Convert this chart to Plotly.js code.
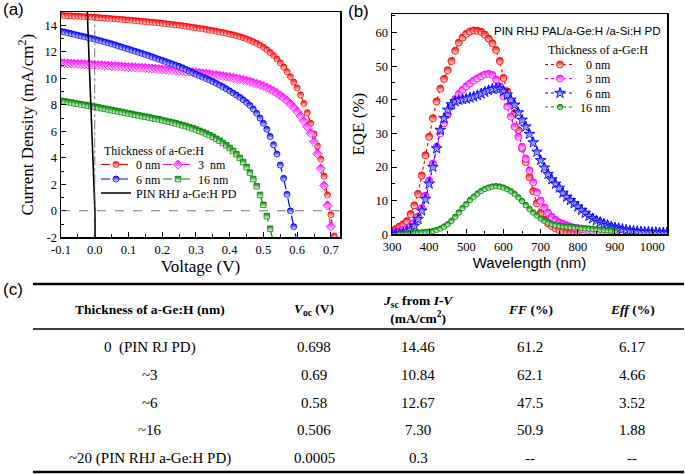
<!DOCTYPE html>
<html><head><meta charset="utf-8">
<script src="https://cdn.plot.ly/plotly-3.0.1.min.js"></script>
<style>html,body{margin:0;padding:0;background:#fff}#chart{width:685px;height:474px}</style>
</head><body><div id="chart"></div>
<script>
// ---------- (a) J-V data ----------
const voltage = [-0.10,-0.09,-0.08,-0.07,-0.06,-0.05,-0.04,-0.03,-0.02,-0.01,
 0.00,0.01,0.02,0.03,0.04,0.05,0.06,0.07,0.08,0.09,
 0.10,0.11,0.12,0.13,0.14,0.15,0.16,0.17,0.18,0.19,
 0.20,0.21,0.22,0.23,0.24,0.25,0.26,0.27,0.28,0.29,
 0.30,0.31,0.32,0.33,0.34,0.35,0.36,0.37,0.38,0.39,
 0.40,0.41,0.42,0.43,0.44,0.45,0.46,0.47,0.48,0.49,
 0.50,0.51,0.52,0.53,0.54,0.55,0.56,0.57,0.58,0.59,
 0.60,0.61,0.62,0.63,0.64,0.65,0.66,0.67,0.68,0.69,
 0.70,0.71,0.72];
const jv0nm = [14.75,14.74,14.72,14.71,14.69,14.68,14.66,14.65,14.63,14.62,
 14.60,14.58,14.56,14.54,14.52,14.50,14.48,14.46,14.44,14.42,
 14.40,14.38,14.35,14.33,14.30,14.28,14.25,14.23,14.20,14.18,
 14.15,14.12,14.09,14.06,14.03,14.00,13.96,13.93,13.89,13.85,
 13.81,13.77,13.73,13.69,13.64,13.60,13.55,13.50,13.45,13.40,
 13.34,13.28,13.21,13.14,13.06,12.97,12.87,12.76,12.64,12.50,
 12.34,12.16,11.95,11.72,11.46,11.17,10.85,10.50,10.12,9.71,
 9.27,8.75,8.10,7.40,6.60,5.80,4.90,3.90,2.60,1.20,
 -0.30,-1.90];
const jv3nm = [11.15,11.14,11.12,11.11,11.10,11.08,11.07,11.05,11.04,11.02,
 11.01,10.99,10.98,10.96,10.95,10.93,10.92,10.90,10.89,10.87,
 10.85,10.84,10.82,10.80,10.79,10.77,10.75,10.73,10.71,10.69,
 10.67,10.65,10.63,10.61,10.59,10.56,10.54,10.51,10.49,10.46,
 10.43,10.40,10.37,10.34,10.31,10.27,10.24,10.20,10.16,10.12,
 10.08,10.03,9.98,9.93,9.87,9.81,9.74,9.67,9.59,9.50,
 9.40,9.29,9.17,9.03,8.88,8.71,8.52,8.30,8.06,7.79,
 7.49,7.15,6.77,6.34,5.85,5.20,4.30,3.20,1.90,0.40,
 -1.20,-2.90];
const jv6nm = [13.55,13.49,13.43,13.37,13.31,13.25,13.19,13.13,13.07,13.01,
 12.95,12.88,12.81,12.74,12.67,12.60,12.52,12.44,12.36,12.28,
 12.20,12.12,12.04,11.96,11.88,11.80,11.71,11.62,11.53,11.44,
 11.35,11.26,11.17,11.08,10.99,10.90,10.79,10.67,10.55,10.43,
 10.31,10.20,10.09,9.98,9.87,9.75,9.62,9.49,9.35,9.20,
 9.05,8.89,8.73,8.56,8.38,8.18,7.95,7.68,7.36,7.00,
 6.60,6.15,5.60,4.98,4.28,3.45,2.45,1.25,0.00,-1.20,
 -2.40];
const jv16nm = [8.30,8.26,8.21,8.17,8.12,8.08,8.03,7.99,7.94,7.90,
 7.85,7.80,7.75,7.70,7.65,7.60,7.55,7.50,7.45,7.40,
 7.35,7.30,7.25,7.20,7.15,7.10,7.05,7.00,6.95,6.90,
 6.84,6.78,6.72,6.66,6.60,6.53,6.46,6.39,6.31,6.23,
 6.14,6.04,5.94,5.83,5.71,5.58,5.44,5.29,5.12,4.94,
 4.74,4.52,4.27,3.99,3.67,3.30,2.88,2.40,1.85,1.20,
 0.45,-0.40,-1.35,-2.40];
const pdVoltage = [-0.023,-0.011,0.0,0.0005,0.0012];
const pdCurrent = [15.6,7.6,0.3,0.0,-2.0];
const jvXTickVals = [-0.1,0.0,0.1,0.2,0.3,0.4,0.5,0.6,0.7];
const jvXTickText = ['-0.1','0.0','0.1','0.2','0.3','0.4','0.5','0.6','0.7'];
const jvYTickVals = [-2,0,2,4,6,8,10,12,14];
const jvYTickText = ['-2','0','2','4','6','8','10','12','14'];

// ---------- (b) EQE data ----------
const wavelength = [300,310,320,330,340,350,360,370,380,390,
 400,410,420,430,440,450,460,470,480,490,
 500,510,520,530,540,550,560,570,580,590,
 600,610,620,630,640,650,660,670,680,690,
 700,710,720,730,740,750,760,770,780,790,
 800,810,820,830,840,850,860,870,880,890,
 900,910,920,930,940,950,960,970,980,990,
 1000,1010,1020,1030,1040,1050];
const eqe0nm = [1.0,1.6,2.3,3.0,3.9,6.0,8.6,12.0,17.5,23.5,
 29.0,34.5,39.5,43.3,46.2,48.8,51.5,54.6,57.0,58.5,
 59.6,60.3,60.6,60.5,60.2,59.4,58.2,56.8,54.8,51.5,
 46.5,42.5,39.5,36.0,31.0,25.5,21.5,17.0,12.8,9.2,
 6.3,4.4,3.2,2.4,1.8,1.3,1.0,0.7,0.5,0.4,0.3];
const eqe3nm = [0.4,0.6,0.9,1.3,1.8,2.5,3.5,5.3,7.8,11.5,
 16.0,21.0,26.0,30.0,33.0,35.5,38.0,40.2,41.8,43.0,
 44.0,44.9,45.7,46.4,47.0,47.5,47.7,47.4,46.0,44.0,
 41.0,38.0,35.0,32.0,29.0,26.0,22.5,19.0,15.5,12.5,
 10.0,8.0,6.4,5.2,4.3,3.6,3.1,2.7,2.3,2.0,
 1.8,1.6,1.4,1.2,1.0,0.9,0.8,0.7,0.6,0.5,0.4];
const eqe6nm = [0.0,0.1,0.2,0.4,0.8,1.4,2.5,4.5,7.0,10.5,
 15.0,20.0,25.5,31.0,34.5,37.0,38.6,39.5,39.9,40.1,
 40.3,40.6,40.9,41.3,41.8,42.3,42.8,43.2,43.4,43.2,
 42.6,41.5,40.0,38.5,36.2,34.0,32.0,29.8,27.3,24.5,
 22.0,19.8,17.9,16.3,15.0,13.8,12.3,11.1,10.1,9.2,
 8.2,7.2,6.3,5.4,4.7,4.1,3.6,3.1,2.7,2.3,
 2.0,1.8,1.5,1.3,1.1,1.0,0.9,0.8,0.7,0.7,
 0.6,0.6,0.5,0.5,0.5,0.4];
const eqe16nmStart = 2; // first point at 320 nm
const eqe16nm = [0.1,0.1,0.2,0.3,0.4,0.5,0.6,0.7,
 0.8,1.0,1.3,1.7,2.3,3.0,4.0,5.2,6.5,7.8,
 9.0,10.2,11.2,12.1,12.9,13.5,13.9,14.2,14.3,14.2,
 13.9,13.4,12.8,12.0,11.0,9.9,8.7,7.5,6.5,5.6,
 4.7,4.0,3.5,3.1,2.8,2.6,2.4,2.3,2.2,2.1,
 2.0,1.9,1.8,1.7,1.6,1.5,1.4,1.3,1.2,1.1,1.0];

// ---------- (c) table ----------
const tableHeaders = ['<b>Thickness of a-Ge:H (nm)</b>','<b><i>V</i><sub>oc</sub> (V)</b>',
 '<b><i>J</i><sub>sc</sub> from <i>I-V</i><br>(mA/cm<sup>2</sup>)</b>','<b><i>FF</i> (%)</b>','<b><i>Eff</i> (%)</b>'];
const thicknessLabels = ['0  (PIN RJ PD)','~3','~6','~16','~20 (PIN RHJ a-Ge:H PD)'];
const vocValues = ['0.698','0.69','0.58','0.506','0.0005'];
const jscValues = ['14.46','10.84','12.67','7.30','0.3'];
const ffValues = ['61.2','62.1','47.5','50.9','--'];
const effValues = ['6.17','4.66','3.52','1.88','--'];
const legendTitle = 'Thickness of a-Ge:H';

// ---------- helpers ----------
const W = 685, H = 474;
const px = x => x / W;
const py = y => 1 - y / H;
const serif = 'Liberation Serif, Times New Roman, serif';
const sans = 'Liberation Sans, Arial, sans-serif';
const RED = '#ff0000', MAG = '#ff00ff', BLU = '#0000ff', GRN = '#008a00';

function jvTrace(name, y, color, symbol, size, legend) {
  return {type:'scatter', mode:'lines+markers', name, legend,
    x: voltage.slice(0, y.length), y, xaxis:'x', yaxis:'y',
    line:{color, width:1.2, dash:'dash'},
    marker:{symbol, size, color, gradient:{type:'vertical', color:'#ffffff'}, line:{color, width:0.8}}};
}
function eqeTrace(name, y, start, color, symbol, size, legend) {
  return {type:'scatter', mode:'lines+markers', name, legend,
    x: wavelength.slice(start, start + y.length), y, xaxis:'x2', yaxis:'y2',
    line:{color, width:1.2, dash:'dot'},
    marker:{symbol, size, color, gradient:{type:'vertical', color:'#ffffff'}, line:{color, width:0.9}}};
}

const data = [
  jvTrace('0 nm', jv0nm, RED, 'circle', 6, 'legend'),
  jvTrace('3  nm', jv3nm, MAG, 'diamond', 7, 'legend2'),
  jvTrace('6 nm', jv6nm, BLU, 'circle', 6, 'legend3'),
  jvTrace('16 nm', jv16nm, GRN, 'square', 5.5, 'legend4'),
  {type:'scatter', mode:'lines', name:'PIN RHJ a-Ge:H PD', legend:'legend5',
    x: pdVoltage, y: pdCurrent, xaxis:'x', yaxis:'y', line:{color:'#000', width:1.6}},
  eqeTrace('\u20070 nm', eqe0nm, 0, RED, 'circle', 7, 'legend6'),
  eqeTrace('\u20073 nm', eqe3nm, 0, MAG, 'circle', 7, 'legend7'),
  eqeTrace('\u20076 nm', eqe6nm, 0, BLU, 'star', 8, 'legend8'),
  eqeTrace('16 nm', eqe16nm, eqe16nmStart, GRN, 'circle', 5.5, 'legend9')
];

const tickFont = {family: serif, size: 12.5, color: '#000'};
const axisCommon = {showline:true, mirror:true, linecolor:'#000', linewidth:1.5, ticks:'inside',
  ticklen:5, tickwidth:1, tickcolor:'#000', showgrid:false, zeroline:false, tickfont: tickFont};
const legBase = {bgcolor:'rgba(0,0,0,0)', borderwidth:0, orientation:'v', xanchor:'left', yanchor:'middle',
  font:{family: serif, size: 12, color:'#000'}, itemwidth:30, tracegroupgap:0};

const annotations = [
  {text:'(a)', x:px(1), y:py(10), xanchor:'left', yanchor:'middle', font:{family:sans, size:17, color:'#000'}},
  {text:'(b)', x:px(346), y:py(11), xanchor:'left', yanchor:'middle', font:{family:sans, size:17, color:'#000'}},
  {text:'(c)', x:px(1), y:py(289), xanchor:'left', yanchor:'middle', font:{family:sans, size:17, color:'#000'}},
  {text:'PIN RHJ PAL/a-Ge:H /a-Si:H PD', x:px(492), y:py(31), xanchor:'left', yanchor:'middle',
    font:{family:sans, size:11.5, color:'#000'}},
  {text:legendTitle, x:px(102), y:py(151), xanchor:'left', yanchor:'middle', font:{family:serif, size:12, color:'#000'}},
  {text:legendTitle, x:px(546), y:py(50), xanchor:'left', yanchor:'middle', font:{family:serif, size:12, color:'#000'}}
];
const colX = [150, 314, 418, 530, 632];
const rowY = [347, 375, 403, 430, 458];
const columns = [thicknessLabels, vocValues, jscValues, ffValues, effValues];
tableHeaders.forEach((h, i) => annotations.push({text:h, x:px(colX[i]), y:py(309), xanchor:'center', yanchor:'middle',
  font:{family:serif, size:13.5, color:'#000'}}));
columns.forEach((col, i) => col.forEach((t, j) => annotations.push({text:t, x:px(colX[i]), y:py(rowY[j]),
  xanchor:'center', yanchor:'middle', font:{family:serif, size:15, color:'#000'}})));
annotations.forEach(a => { a.xref = 'paper'; a.yref = 'paper'; a.showarrow = false; });

const shapes = [
  {type:'line', xref:'x domain', yref:'y', x0:0, x1:1, y0:0, y1:0, line:{color:'#555', width:0.8, dash:'dash'}},
  {type:'line', xref:'x', yref:'y domain', x0:0, x1:0, y0:0, y1:1, line:{color:'#555', width:0.8, dash:'dashdot'}},
  {type:'line', xref:'paper', yref:'paper', x0:px(33), x1:px(684), y0:py(284), y1:py(284), line:{color:'#000', width:2.5}},
  {type:'line', xref:'paper', yref:'paper', x0:px(33), x1:px(684), y0:py(329), y1:py(329), line:{color:'#000', width:1.5}},
  {type:'line', xref:'paper', yref:'paper', x0:px(33), x1:px(684), y0:py(472), y1:py(472), line:{color:'#000', width:2.5}}
];

const layout = {
  width: W, height: H, margin:{l:0, r:0, t:0, b:0}, paper_bgcolor:'#fff', plot_bgcolor:'#fff',
  font:{family: serif, color:'#000'},
  xaxis: Object.assign({}, axisCommon, {domain:[px(61), px(340)], range:[-0.1, 0.727], anchor:'y',
    tickmode:'array', tickvals: jvXTickVals, ticktext: jvXTickText,
    minor:{ticks:'inside', ticklen:3, tickcolor:'#000', dtick:0.05, tick0:-0.1},
    title:{text:'Voltage (V)', font:{family:serif, size:17, color:'#000'}, standoff:4}}),
  yaxis: Object.assign({}, axisCommon, {domain:[py(237.3), py(12)], range:[-2, 15], anchor:'x',
    tickmode:'array', tickvals: jvYTickVals, ticktext: jvYTickText,
    minor:{ticks:'inside', ticklen:3, tickcolor:'#000', dtick:1, tick0:0},
    title:{text:'Current Density (mA/cm<sup>2</sup>)', font:{family:serif, size:17, color:'#000'}, standoff:6}}),
  xaxis2: Object.assign({}, axisCommon, {domain:[px(392), px(667)], range:[300, 1040], anchor:'y2',
    tick0:300, dtick:100, minor:{ticks:'inside', ticklen:3, tickcolor:'#000', dtick:50, tick0:300},
    title:{text:'Wavelength (nm)', font:{family:sans, size:15, color:'#000'}, standoff:4}}),
  yaxis2: Object.assign({}, axisCommon, {domain:[py(234.3), py(14)], range:[0, 65.5], anchor:'x2',
    tick0:0, dtick:10, minor:{ticks:'inside', ticklen:3, tickcolor:'#000', dtick:5, tick0:0},
    title:{text:'EQE (%)', font:{family:serif, size:17, color:'#000'}, standoff:6}}),
  legend: Object.assign({}, legBase, {x:px(96), y:py(164.5)}),
  legend2: Object.assign({}, legBase, {x:px(158), y:py(164.5)}),
  legend3: Object.assign({}, legBase, {x:px(96), y:py(179)}),
  legend4: Object.assign({}, legBase, {x:px(158), y:py(179)}),
  legend5: Object.assign({}, legBase, {x:px(96), y:py(193)}),
  legend6: Object.assign({}, legBase, {x:px(540), y:py(64.5)}),
  legend7: Object.assign({}, legBase, {x:px(540), y:py(78.5)}),
  legend8: Object.assign({}, legBase, {x:px(540), y:py(93)}),
  legend9: Object.assign({}, legBase, {x:px(540), y:py(107)}),
  annotations, shapes, showlegend: true
};

Plotly.newPlot('chart', data, layout, {displayModeBar:false, staticPlot:true});
</script>
</body></html>
